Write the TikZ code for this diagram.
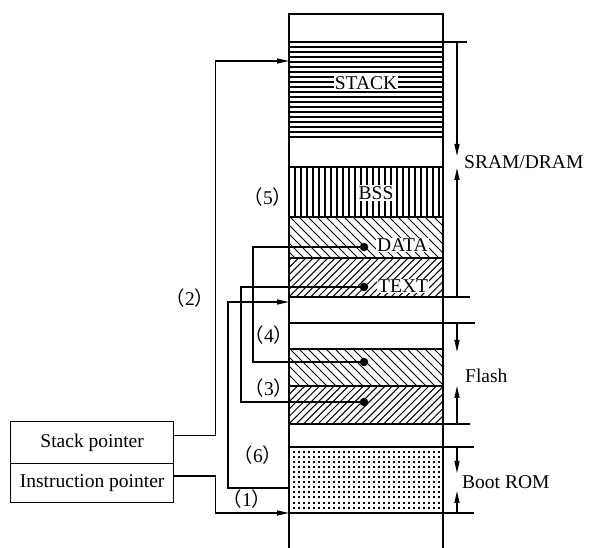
\documentclass[tikz,border=0pt]{standalone}
\usepackage{fontspec}
\setmainfont{Liberation Serif}
\newfontfamily\cjkfont{Noto Sans CJK SC}
\usetikzlibrary{arrows.meta}
\newcommand{\plab}[1]{{\cjkfont （}#1{\cjkfont ）}}
\begin{document}
\begin{tikzpicture}[x=1pt,y=-1pt,
  txt/.style={font=\fontsize{19.5}{22}\selectfont, inner sep=1pt},
  region/.style={draw, line width=1.3pt, minimum width=154pt, anchor=north west, inner sep=0pt, outer sep=0pt},
  conn/.style={line width=1.3pt},
  arr/.style={conn, -{Triangle[length=12pt,width=5pt]}},
  pdot/.style={circle, fill, inner sep=0pt, minimum size=8.5pt},
  box/.style={draw, line width=1.3pt, minimum width=163pt, anchor=north west, inner sep=0pt, font=\fontsize{19.5}{22}\selectfont},
  hatchh/.style={line width=1.4pt},
  hatch/.style={line width=1pt}
]
\useasboundingbox (0,0) rectangle (590,548);
% ---- hatching ----
\foreach \k in {1,...,18} \draw[hatchh] (289,{42+\k*5}) -- (443,{42+\k*5});
\foreach \k in {1,...,25} \draw[hatch, line width=1.1pt] ({289+\k*6},167) -- ({289+\k*6},217);
\begin{scope}
  \clip (289,217) rectangle (443,258);
  \foreach \x in {245,254,...,445} \draw[hatch] (\x,217) -- ++(41,41);
\end{scope}
\begin{scope}
  \clip (289,258) rectangle (443,297);
  \foreach \x in {245,252.3,...,445} \draw[hatch] (\x,297) -- ++(39,-39);
\end{scope}
\begin{scope}
  \clip (289,349) rectangle (443,386);
  \foreach \x in {245,254,...,445} \draw[hatch] (\x,349) -- ++(37,37);
\end{scope}
\begin{scope}
  \clip (289,386) rectangle (443,424);
  \foreach \x in {245,252.3,...,445} \draw[hatch] (\x,424) -- ++(38,-38);
\end{scope}
\foreach \i in {0,...,29} \foreach \j in {0,...,11}
  \fill ({292.6+\i*5},{450.6+\j*5.1}) rectangle ++(2,2);
% column outline
\draw[line width=1.3pt] (289,548) -- (289,14) -- (443,14) -- (443,548);
% regions
\node[region, minimum height=95pt] (stack) at (289,42) {};
\node[region, minimum height=50pt] (bss) at (289,167) {};
\node[region, minimum height=41pt] (data) at (289,217) {};
\node[region, minimum height=39pt] (text) at (289,258) {};
\node[region, minimum height=26pt] (gap) at (289,297) {};
\node[region, minimum height=37pt] (fdata) at (289,349) {};
\node[region, minimum height=38pt] (ftext) at (289,386) {};
\node[region, minimum height=66pt] (boot) at (289,447) {};
% region labels
\node[txt, fill=white] (stacklab) at (366,83) {STACK};
\node[txt, fill=white] (bsslab) at (376,193) {BSS};
\node[txt, fill=white, anchor=west] (datalab) at (376,245) {DATA};
\node[txt, fill=white, anchor=west] (textlab) at (377,286) {TEXT};
% right side extension lines
\draw[conn] (443,42) -- (467,42);
\draw[conn] (443,297) -- (470,297);
\draw[conn] (443,323) -- (475,323);
\draw[conn] (443,424) -- (470,424);
\draw[conn] (443,447) -- (474,447);
\draw[conn] (443,513) -- (474,513);
% right side span arrows
\coordinate (s1) at (457,42); \coordinate (s1e) at (457,156);
\coordinate (s2) at (457,297); \coordinate (s2e) at (457,168);
\draw[arr] (s1) -- (s1e);
\draw[arr] (s2) -- (s2e);
\node[txt, anchor=west] (sram) at (463,162) {SRAM/DRAM};
\coordinate (f1) at (457,323); \coordinate (f1e) at (457,352);
\coordinate (f2) at (457,424); \coordinate (f2e) at (457,386);
\draw[arr] (f1) -- (f1e);
\draw[arr] (f2) -- (f2e);
\node[txt, anchor=west] (flash) at (464,376) {Flash};
\coordinate (b1) at (457,447); \coordinate (b1e) at (457,473);
\coordinate (b2) at (457,513); \coordinate (b2e) at (457,491);
\draw[arr] (b1) -- (b1e);
\draw[arr] (b2) -- (b2e);
\node[txt, anchor=west] (bootlab) at (461,482) {Boot ROM};
% pointer boxes
\node[box, minimum height=42pt] (sp) at (10,421) {Stack pointer};
\node[box, minimum height=39pt] (ip) at (10,463) {Instruction pointer};
% connectors
\coordinate (stackin) at (289,61);
\coordinate (bootin) at (289,513);
\coordinate (bootout) at (289,488);
\coordinate (gapin) at (289,302);
\draw[arr] ([yshift=7pt]sp.east) -- ++(41,0) |- (stackin);
\draw[arr] ([yshift=7pt]ip.east) -- ++(41,0) |- (bootin);
\draw[arr] (bootout) -- (228,488) |- (gapin);
\node[pdot] (d1) at (364,247) {};
\node[pdot] (d2) at (364,362) {};
\node[pdot] (t1) at (364,287) {};
\node[pdot] (t2) at (364,402) {};
\draw[conn] (d1.center) -- (253,247) |- (d2.center);
\draw[conn] (t1.center) -- (241,287) |- (t2.center);
% step labels
\node[txt] (l1) at (247,499) {\plab{1}};
\node[txt] (l2) at (190,298) {\plab{2}};
\node[txt] (l3) at (269,388) {\plab{3}};
\node[txt] (l4) at (269,335) {\plab{4}};
\node[txt] (l5) at (268,197) {\plab{5}};
\node[txt] (l6) at (258,455) {\plab{6}};
\end{tikzpicture}
\end{document}
